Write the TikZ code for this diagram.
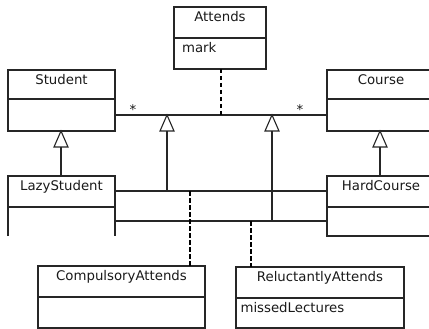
\documentclass[tikz,border=0pt]{standalone}
\usepackage{fontspec}
\setmainfont{DejaVu Sans}
\begin{document}
\begin{tikzpicture}[x=1pt,y=-1pt,
  font=\fontsize{13.3}{15}\selectfont,
  line width=1.1pt, draw=black!85,
  cls/.style={draw=black!85, line width=1.1pt, rectangle, anchor=north west, inner sep=0pt, outer sep=0pt},
  ttl/.style={anchor=base, inner sep=0pt, text=black!90},
  attr/.style={anchor=base west, inner sep=0pt, text=black!90},
  mult/.style={anchor=base, inner sep=0pt, text=black!90},
  conn/.style={draw=black!85, line width=1.1pt},
  dep/.style={draw=black, line width=2.6pt, dash pattern=on 4.5pt off 2.5pt},
  gen/.style={draw=black!85, line width=1.1pt, fill=white, line join=miter}]
\useasboundingbox (0,0) rectangle (429,329);
\clip (0,0) rectangle (429,329);

% class boxes
\node[cls, minimum width=92pt, minimum height=62pt] (attends) at (174,7) {};
\node[cls, minimum width=107pt, minimum height=61pt] (student) at (8,70) {};
\node[cls, minimum width=115pt, minimum height=61pt] (course) at (327,70) {};
\node[rectangle, anchor=north west, inner sep=0pt, outer sep=0pt, minimum width=107pt, minimum height=60pt] (lazy) at (8,176) {};
\node[cls, minimum width=115pt, minimum height=60pt] (hard) at (327,176) {};
\node[cls, minimum width=167pt, minimum height=62pt] (comp) at (38,266) {};
\node[cls, minimum width=168pt, minimum height=61pt] (rel) at (236,267) {};

\draw[conn] (lazy.south west) -- (lazy.north west) -- (lazy.north east) -- (lazy.south east);

% dividers
\draw[conn] (attends.west |- 0,38) -- (attends.east |- 0,38);
\draw[conn] (student.west |- 0,99) -- (student.east |- 0,99);
\draw[conn] (course.west |- 0,99) -- (course.east |- 0,99);
\draw[conn] (lazy.west |- 0,207) -- (lazy.east |- 0,207);
\draw[conn] (hard.west |- 0,207) -- (hard.east |- 0,207);
\draw[conn] (comp.west |- 0,297) -- (comp.east |- 0,297);
\draw[conn] (rel.west |- 0,298) -- (rel.east |- 0,298);

% titles and attributes
\node[ttl] (attendsT) at (220,21.5) {Attends};
\node[attr] (attendsA) at (181.5,53) {mark};
\node[ttl] (studentT) at (61.5,84.5) {Student};
\node[ttl] (courseT) at (381,84.5) {Course};
\node[ttl] (lazyT) at (61.5,190) {LazyStudent};
\node[ttl] (hardT) at (381,190) {HardCourse};
\node[ttl] (compT) at (121.5,280.5) {CompulsoryAttends};
\node[ttl] (relT) at (320,281.5) {ReluctantlyAttends};
\node[attr] (relA) at (240,312) {missedLectures};

% junction coordinates
\coordinate (sL) at (115,115);
\coordinate (cR) at (327,115);
\coordinate (dA) at (221,115);
\coordinate (g1) at (167,115);
\coordinate (g2) at (272,115);
\coordinate (l1) at (115,191);
\coordinate (h1) at (327,191);
\coordinate (l2) at (115,221);
\coordinate (h2) at (327,221);
\coordinate (j1) at (167,191);
\coordinate (j2) at (272,221);
\coordinate (d1) at (190,191);
\coordinate (d2) at (251,221);
\coordinate (gs) at (61,131);
\coordinate (gc) at (380,131);

% associations
\draw[conn] (sL) -- (cR);
\draw[conn] (l1) -- (h1);
\draw[conn] (l2) -- (h2);
\node[mult] (m1) at (133,114) {*};
\node[mult] (m2) at (300,114) {*};

% generalizations of associations
\draw[conn] (g1) ++(0,16) -- (j1);
\draw[conn] (g2) ++(0,16) -- (j2);
\draw[gen] (g1) -- ++(-7,16) -- ++(14,0) -- cycle;
\draw[gen] (g2) -- ++(-7,16) -- ++(14,0) -- cycle;

% class generalizations
\draw[conn] (gs) ++(0,16) -- (gs |- lazy.north);
\draw[conn] (gc) ++(0,16) -- (gc |- hard.north);
\draw[gen] (gs) -- ++(-7,16) -- ++(14,0) -- cycle;
\draw[gen] (gc) -- ++(-7,16) -- ++(14,0) -- cycle;

% association class links
\draw[dep] (attends.south -| dA) -- (dA);
\draw[dep] (d1) -- (d1 |- comp.north);
\draw[dep] (d2) -- (d2 |- rel.north);
\end{tikzpicture}
\end{document}
